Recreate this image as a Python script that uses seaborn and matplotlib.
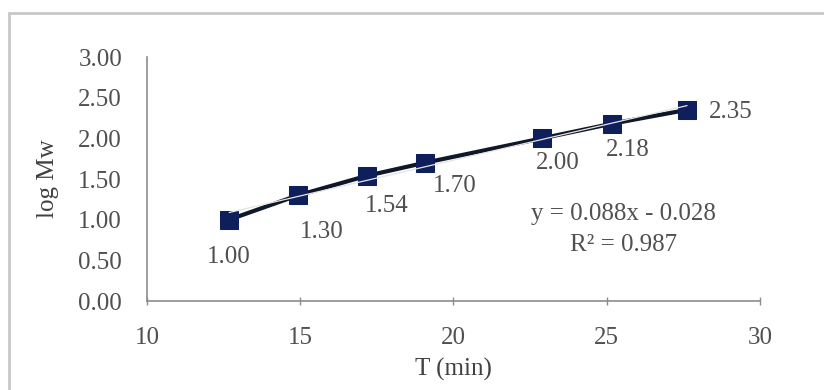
import matplotlib
matplotlib.use("Agg")
import matplotlib.pyplot as plt
import seaborn as sns
import numpy as np
import pandas as pd
from matplotlib.patches import Rectangle

# Elution time vs. log molecular weight (calibration)
time_min = [12.68, 14.93, 17.18, 19.07, 22.89, 25.17, 27.62]
log_mw = [1.00, 1.30, 1.54, 1.70, 2.00, 2.18, 2.35]
value_labels = ["1.00", "1.30", "1.54", "1.70", "2.00", "2.18", "2.35"]
fit_slope = 0.088
fit_intercept = -0.028
fit_r2 = 0.987
x_ticks = [10, 15, 20, 25, 30]
y_ticks = [0.0, 0.5, 1.0, 1.5, 2.0, 2.5, 3.0]

df = pd.DataFrame({"T": time_min, "logMw": log_mw})

sns.set_theme(style="white")
plt.rcParams["font.family"] = ["Liberation Serif", "DejaVu Serif"]

FS = 18
TXT = "#505050"

fig = plt.figure(figsize=(8.24, 3.90), dpi=100)
ax = fig.add_axes([147 / 824, 1 - 301 / 390, (760 - 147) / 824, (301 - 57) / 390])

# chart frame
fig.patches.append(Rectangle((9 / 824, -0.1), 1.2, 1 - 13 / 390 + 0.1,
                             transform=fig.transFigure, fill=False,
                             edgecolor="#c8c8c8", linewidth=2.0, zorder=0))

navy = "#0f1f5c"
sns.lineplot(data=df, x="T", y="logMw", ax=ax, color="#101828", linewidth=3.0,
             marker="s", markersize=12.5, markerfacecolor=navy,
             markeredgecolor=navy, zorder=3)

# linear trendline
xf = np.array([time_min[0], time_min[-1]])
ax.plot(xf, fit_slope * xf + fit_intercept, color="#e4e4e4", linewidth=0.9, zorder=4)

offsets = [(0, -37), (24, -37), (20, -30), (30, -23), (16, -25), (16, -26), (44, -2)]
for x, y, lab, off in zip(time_min, log_mw, value_labels, offsets):
    ax.annotate(lab, (x, y), xytext=off, textcoords="offset pixels",
                ha="center", va="center", fontsize=FS, color=TXT)

ax.text(25.56, 1.07, f"y = {fit_slope:.3f}x - {abs(fit_intercept):.3f}",
        ha="center", va="center", fontsize=FS, color=TXT)
ax.text(25.56, 0.69, f"R² = {fit_r2:.3f}",
        ha="center", va="center", fontsize=FS, color=TXT)

ax.set_xlim(10, 30)
ax.set_ylim(0, 3)
ax.set_xticks(x_ticks)
ax.set_yticks(y_ticks)
ax.set_xticklabels([str(t) for t in x_ticks])
ax.set_yticklabels([f"{t:.2f}" for t in y_ticks])
ax.tick_params(axis="x", direction="inout", length=6, width=1, color="#8c8c8c",
               pad=16, labelsize=FS, labelcolor=TXT)
ax.tick_params(axis="y", direction="out", length=0, pad=18,
               labelsize=FS, labelcolor=TXT)
ax.xaxis.set_ticks_position("bottom")

for s in ["top", "right"]:
    ax.spines[s].set_visible(False)
for s in ["left", "bottom"]:
    ax.spines[s].set_color("#8c8c8c")
    ax.spines[s].set_linewidth(1.2)
ax.grid(False)

ax.set_xlabel("T (min)", fontsize=FS, color="#404040", labelpad=6)
ax.set_ylabel("log Mw", fontsize=FS, color="#404040", labelpad=14)

fig.savefig("out.png", dpi=100)
